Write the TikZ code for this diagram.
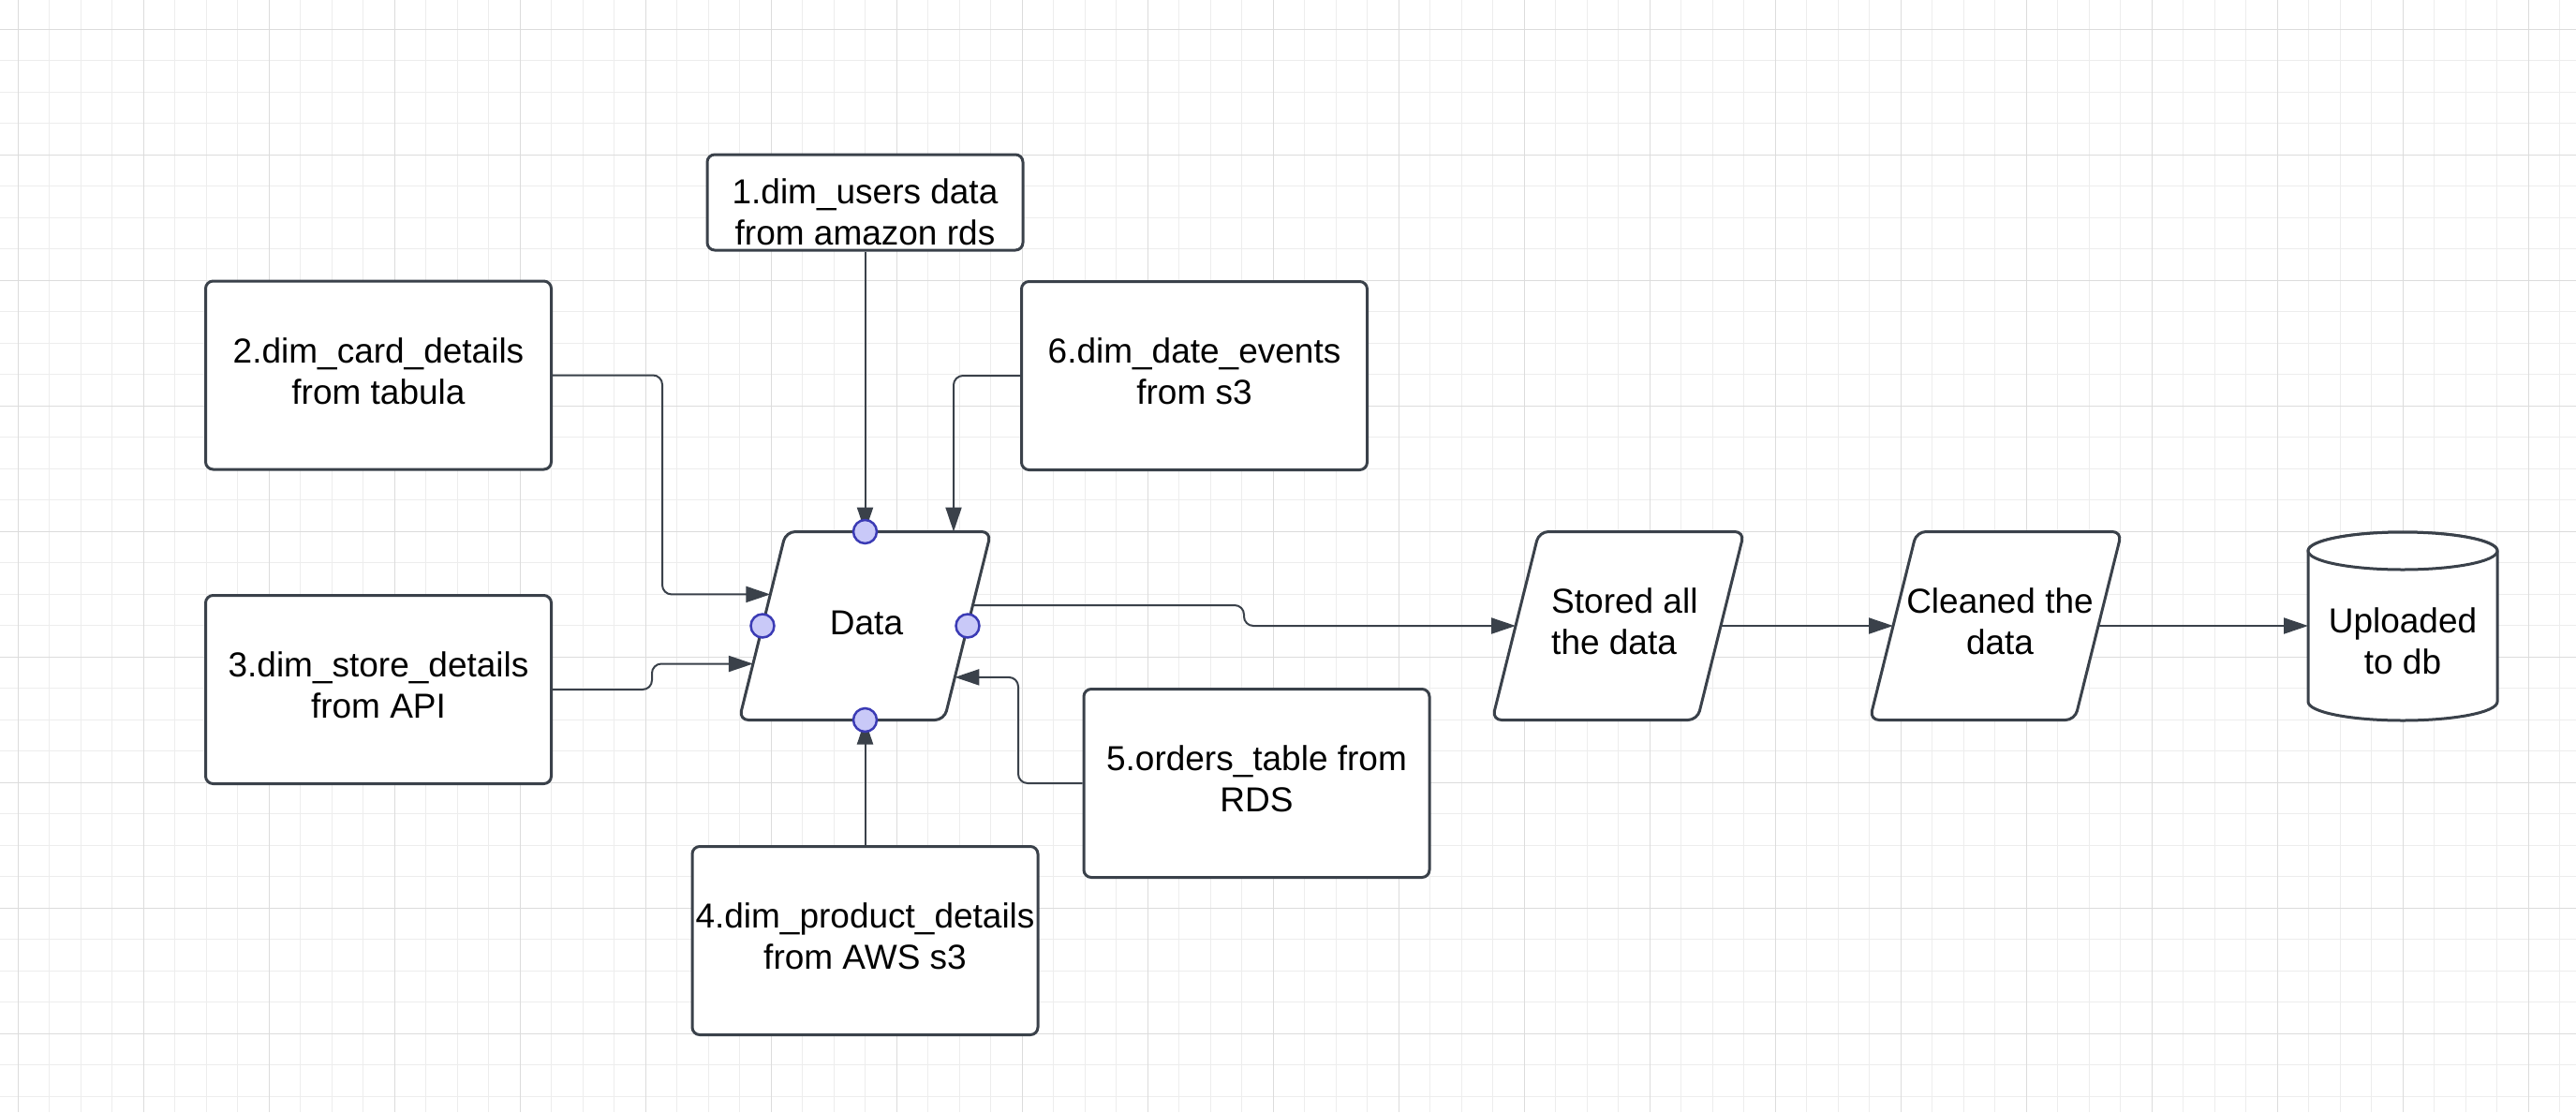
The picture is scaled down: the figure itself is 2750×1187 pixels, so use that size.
\documentclass[tikz,border=0pt]{standalone}
\usepackage{fontspec}
\setmainfont{Liberation Sans}
\usetikzlibrary{arrows.meta,calc}
\definecolor{lc}{HTML}{3A414A}
\definecolor{gminor}{HTML}{EDEDED}
\definecolor{gmajor}{HTML}{DCDCDC}
\definecolor{portf}{HTML}{C9C9F8}
\definecolor{portb}{HTML}{3B3BB5}
\newcommand\diagfont{\fontsize{37pt}{44pt}\selectfont}
\newcommand\ls{\rule[-13.1pt]{0pt}{43.6pt}}
\newcommand\twol[2]{\ls #1\\\ls #2}
\begin{document}
\begin{tikzpicture}[x=1pt,y=-1pt,
  outl/.style={draw=lc, line width=3pt, fill=white, line join=round},
  boxn/.style={outl, rectangle, rounded corners=8pt, minimum width=369pt, minimum height=201pt, inner sep=0pt, align=center, font=\diagfont, text=black},
  lbl/.style={inner sep=0pt, align=center, font=\diagfont, text=black},
  conn/.style={draw=lc, line width=2pt, rounded corners=10pt, -{Triangle[length=26pt,width=17pt]}},
  port/.style={circle, draw=portb, fill=portf, line width=2.5pt, minimum size=25pt, inner sep=0pt},
  gmin/.style={draw=gminor, line width=1.2pt},
  gmaj/.style={draw=gmajor, line width=1.4pt}]
\useasboundingbox (0,0) rectangle (2750,1187);
\fill[white] (0,0) rectangle (2750,1187);
% grid
\foreach \k in {0,...,81} \draw[gmin] ({19.3+33.5*\k},0) -- ({19.3+33.5*\k},1187);
\foreach \k in {0,...,34} \draw[gmin] (0,{31.3+33.5*\k}) -- (2750,{31.3+33.5*\k});
\foreach \k in {0,...,20} \draw[gmaj] ({19.3+134*\k},0) -- ({19.3+134*\k},1187);
\foreach \k in {0,...,8} \draw[gmaj] (0,{31.3+134*\k}) -- (2750,{31.3+134*\k});

% source boxes
\node[boxn, minimum width=337pt, minimum height=102pt] (b1) at (923.5,216) {};
\node[lbl] (t1) at (923.5,231) {\twol{1.dim\_users data}{from amazon rds}};
\node[boxn] (b2) at (404,400.5) {\twol{2.dim\_card\_details}{from tabula}};
\node[boxn] (b6) at (1275,401) {\twol{6.dim\_date\_events}{from s3}};
\node[boxn] (b3) at (404,736) {\twol{3.dim\_store\_details}{from API}};
\node[boxn] (b4) at (923.5,1004) {\twol{4.dim\_product\_details}{from AWS s3}};
\node[boxn] (b5) at (1341.5,836) {\twol{5.orders\_table from}{RDS}};

% Data parallelogram
\coordinate (dTL) at (839,567.5);
\coordinate (dTR) at (1058,567.5);
\coordinate (dBR) at (1008,768.5);
\coordinate (dBL) at (789,768.5);
\draw[outl, rounded corners=10pt] ($(dTL)!.5!(dTR)$) -- (dTR) -- (dBR) -- (dBL) -- (dTL) -- cycle;
\node[lbl] (data) at (925,668.3) {\ls Data};
\path (dTL) -- (dBL) coordinate[pos=0.333] (dIn2) coordinate[pos=0.7015] (dIn3) coordinate[pos=0.5] (dL);
\path (dTR) -- (dBR) coordinate[pos=0.3905] (dOut) coordinate[pos=0.773] (dIn5) coordinate[pos=0.5] (dR);
\coordinate (dT) at (923.5,567.5);
\coordinate (dB) at (923.5,768.5);
\coordinate (dT6) at (1018,567.5);

% Stored parallelogram
\coordinate (sTL) at (1643,567.5);
\coordinate (sTR) at (1862,567.5);
\coordinate (sBR) at (1812,768.5);
\coordinate (sBL) at (1593,768.5);
\draw[outl, rounded corners=10pt] ($(sTL)!.5!(sTR)$) -- (sTR) -- (sBR) -- (sBL) -- (sTL) -- cycle;
\node[lbl, align=left, anchor=west] (stored) at (1656,667.3) {\twol{Stored all}{the data}};
\coordinate (sL) at ($(sTL)!.5!(sBL)$);
\coordinate (sR) at ($(sTR)!.5!(sBR)$);

% Cleaned parallelogram
\coordinate (cTL) at (2046,567.5);
\coordinate (cTR) at (2265,567.5);
\coordinate (cBR) at (2215,768.5);
\coordinate (cBL) at (1996,768.5);
\draw[outl, rounded corners=10pt] ($(cTL)!.5!(cTR)$) -- (cTR) -- (cBR) -- (cBL) -- (cTL) -- cycle;
\node[lbl] (cleaned) at (2135,667.3) {\twol{Cleaned the}{data}};
\coordinate (cL) at ($(cTL)!.5!(cBL)$);
\coordinate (cR) at ($(cTR)!.5!(cBR)$);

% database cylinder
\draw[outl] (2464,588) -- (2464,749) arc[start angle=180, end angle=0, x radius=101, y radius=20] -- (2666,588) arc[start angle=0, end angle=-180, x radius=101, y radius=20] -- cycle;
\draw[outl] (2565,588) ellipse[x radius=101, y radius=20];
\node[lbl] (db) at (2565,688.3) {\twol{Uploaded}{to db}};
\coordinate (dbW) at (2464,668);

% bend helpers
\coordinate (j2) at (707,0);
\coordinate (j3) at (696,0);
\coordinate (j5) at (1087,0);
\coordinate (j7) at (1328,0);

% connectors
\draw[conn] (b1.south) -- (dT);
\draw[conn] (b2.east) -| (j2 |- dIn2) -- (dIn2);
\draw[conn] (b3.east) -| (j3 |- dIn3) -- (dIn3);
\draw[conn] (b4.north) -- (dB);
\draw[conn] (b6.west) -| (dT6);
\draw[conn] (b5.west) -| (j5 |- dIn5) -- (dIn5);
\draw[conn] (dOut) -| (j7 |- sL) -- (sL);
\draw[conn] (sR) -- (cL);
\draw[conn] (cR) -- (dbW);

% connection points on Data
\node[port] (p1) at (dT) {};
\node[port] (p2) at (dB) {};
\node[port] (p3) at (dL) {};
\node[port] (p4) at (dR) {};
\end{tikzpicture}
\end{document}
